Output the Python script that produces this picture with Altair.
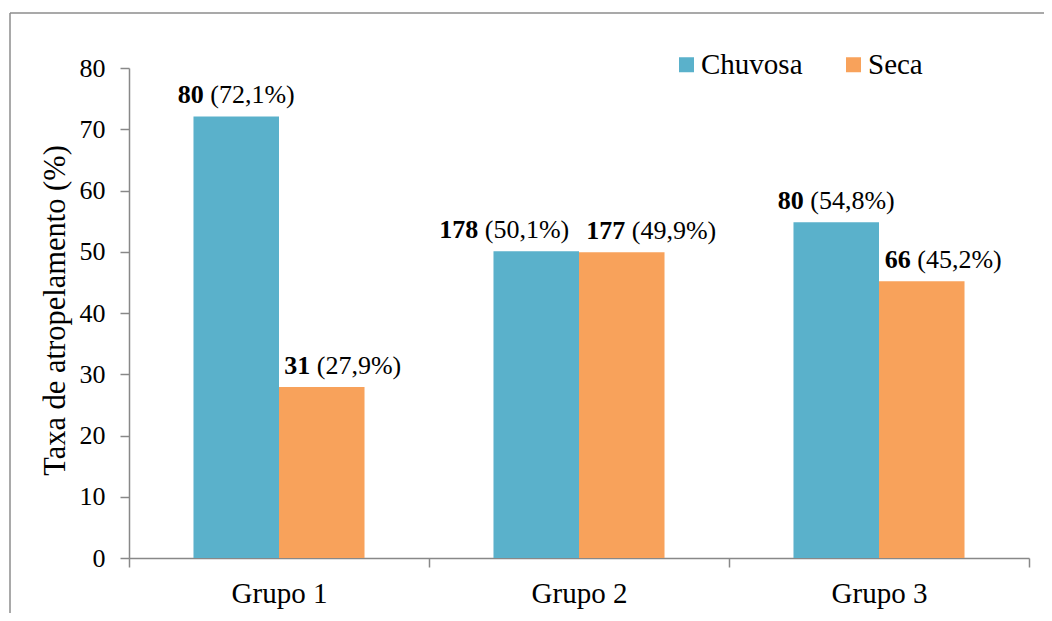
import altair as alt
import pandas as pd

# ---- data ----
groups = ["Grupo 1", "Grupo 1", "Grupo 2", "Grupo 2", "Grupo 3", "Grupo 3"]
seasons = ["Chuvosa", "Seca", "Chuvosa", "Seca", "Chuvosa", "Seca"]
counts = [80, 31, 178, 177, 80, 66]
percents = [72.1, 27.9, 50.1, 49.9, 54.8, 45.2]
group_order = ["Grupo 1", "Grupo 2", "Grupo 3"]
season_order = ["Chuvosa", "Seca"]
y_ticks = [0, 10, 20, 30, 40, 50, 60, 70, 80]

# ---- styling ----
FONT = "Liberation Serif"
FS = 26          # data-label font size
COLORS = ["#5AB1CB", "#F8A25B"]
AXIS_GRAY = "#888888"
W, H = 900, 490
# horizontal nudges of the data labels (as placed in the original)
label_nudge = {("Grupo 1", "Seca"): 21, ("Grupo 2", "Chuvosa"): -32,
               ("Grupo 2", "Seca"): 29.5, ("Grupo 3", "Seca"): 21.5}

rows = []
for g, s, n, p in zip(groups, seasons, counts, percents):
    nudge = label_nudge.get((g, s), 0)
    bold_w = 0.5 * len(str(n)) * FS          # bold digits
    total_w = bold_w + 3.5 * FS              # + " (dd,d%)"
    dx_b = nudge + bold_w - total_w / 2
    rows.append({
        "grupo": g, "estacao": s, "pct": p,
        "n_txt": str(n),
        "p_txt": "(" + f"{p:.1f}".replace(".", ",") + "%)",
        "dx_b": dx_b, "dx_n": dx_b + 0.25 * FS,
    })
df = pd.DataFrame(rows)

x_enc = alt.X("grupo:N", sort=group_order,
              scale=alt.Scale(domain=group_order, paddingInner=0, paddingOuter=0),
              axis=alt.Axis(title=None, labelAngle=0, tickBand="extent",
                            labelFont=FONT, labelFontSize=29, labelColor="black",
                            labelPadding=12, tickSize=9, tickColor=AXIS_GRAY,
                            tickWidth=1.5, domainColor=AXIS_GRAY, domainWidth=1.5,
                            grid=False))
xo_enc = alt.XOffset("estacao:N",
                     scale=alt.Scale(domain=season_order, paddingInner=0,
                                     paddingOuter=0.754))
y_enc = alt.Y("pct:Q", scale=alt.Scale(domain=[0, 80], nice=False),
              axis=alt.Axis(values=y_ticks, title="Taxa de atropelamento (%)",
                            labelFont=FONT, labelFontSize=26, labelColor="black",
                            labelPadding=15, tickSize=9, tickColor=AXIS_GRAY,
                            tickWidth=1.5, domainColor=AXIS_GRAY, domainWidth=1.5,
                            grid=False, titleFont=FONT, titleFontSize=30.5,
                            titleFontWeight="normal", titleColor="black",
                            titleAngle=-90, titleX=-65, titleY=H / 2 - 3,
                            titleAlign="center", titleBaseline="alphabetic"))

base = alt.Chart(df)

bars = base.mark_bar().encode(
    x=x_enc, xOffset=xo_enc, y=y_enc,
    color=alt.Color("estacao:N",
                    scale=alt.Scale(domain=season_order, range=COLORS),
                    legend=alt.Legend(title=None, orient="none", legendX=543,
                                      legendY=-18, direction="horizontal",
                                      symbolType="square", symbolSize=225,
                                      symbolStrokeWidth=0, labelFont=FONT,
                                      labelFontSize=29, labelColor="black",
                                      labelOffset=0, columnPadding=36,
                                      padding=0)),
)

lab_bold = base.mark_text(font=FONT, fontSize=FS, fontWeight="bold",
                          align="right", baseline="alphabetic", dy=-13,
                          color="black",
                          dx=alt.ExprRef(expr="datum.dx_b")).encode(
    x=x_enc, xOffset=xo_enc, y=y_enc, text="n_txt:N")

lab_norm = base.mark_text(font=FONT, fontSize=FS, fontWeight="normal",
                          align="left", baseline="alphabetic", dy=-13,
                          color="black",
                          dx=alt.ExprRef(expr="datum.dx_n")).encode(
    x=x_enc, xOffset=xo_enc, y=y_enc, text="p_txt:N")

frame_df = pd.DataFrame({"k": [0]})
frame_left = alt.Chart(frame_df).mark_rule(color="#8C8C8C", strokeWidth=1.5).encode(
    x=alt.value(-119), y=alt.value(-55), y2=alt.value(H + 80))
frame_top = alt.Chart(frame_df).mark_rule(color="#8C8C8C", strokeWidth=1.5).encode(
    x=alt.value(-119), x2=alt.value(W + 40), y=alt.value(-55))

chart = alt.layer(bars, lab_bold, lab_norm, frame_left, frame_top).properties(
    width=W, height=H,
    autosize=alt.AutoSizeParams(type="none"),
    padding={"left": 121, "top": 60, "right": 15, "bottom": 55},
    background="white",
).configure(font=FONT).configure_view(stroke=None).configure_legend(
    labelFont=FONT).configure_axis(labelFont=FONT, titleFont=FONT)

chart.save("out.html", embed_options={"renderer": "svg", "actions": False})
